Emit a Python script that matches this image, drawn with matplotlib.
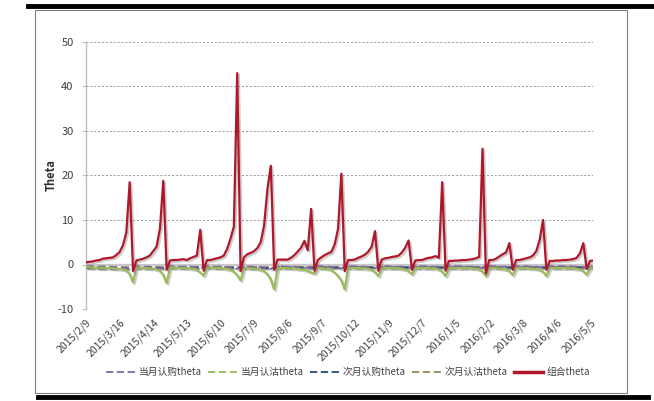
import matplotlib
matplotlib.use("Agg")
import matplotlib.pyplot as plt
import matplotlib.patheffects as pe
from matplotlib.lines import Line2D
from matplotlib.patches import Rectangle

plt.rcParams['font.family'] = ['Noto Sans CJK SC', 'DejaVu Sans']

# tick labels (every 10th sample)
tick_labels = ['2015/2/9', '2015/3/16', '2015/4/14', '2015/5/13', '2015/6/10',
               '2015/7/9', '2015/8/6', '2015/9/7', '2015/10/12', '2015/11/9',
               '2015/12/7', '2016/1/5', '2016/2/2', '2016/3/8', '2016/4/6',
               '2016/5/5']

combo_theta = [
    0.5, 0.6, 0.7, 0.9, 1.0, 1.3, 1.4, 1.5, 1.6, 2.1,
    2.8, 4.3, 7.2, 18.5, -1.5, 0.9, 1.1, 1.3, 1.6, 2.0,
    3.0, 4.0, 8.0, 18.8, -1.2, 0.9, 1.0, 1.0, 1.1, 1.2,
    1.0, 1.4, 1.7, 2.0, 7.8, -1.4, 1.0, 1.0, 1.2, 1.4,
    1.6, 2.0, 3.5, 5.8, 8.5, 43.0, -1.5, 1.6, 2.3, 2.6,
    3.0, 3.7, 5.0, 8.8, 17.0, 22.2, -1.2, 1.1, 1.1, 1.1,
    1.1, 1.5, 2.1, 2.9, 3.8, 5.3, 3.2, 12.5, -1.4, 1.0,
    1.6, 2.1, 2.5, 2.8, 4.5, 8.0, 20.4, -1.5, 1.0, 1.0,
    1.1, 1.5, 1.8, 2.2, 2.9, 4.0, 7.5, -1.4, 1.1, 1.4,
    1.5, 1.7, 1.8, 2.0, 2.7, 3.8, 5.4, -1.2, 0.9, 1.0,
    1.0, 1.3, 1.5, 1.6, 1.9, 1.5, 18.5, -1.4, 0.8, 0.8,
    0.9, 0.9, 1.0, 1.0, 1.1, 1.2, 1.4, 1.7, 26.0, -2.0,
    1.0, 1.0, 1.3, 1.8, 2.3, 2.7, 4.8, -1.2, 1.0, 1.0,
    1.2, 1.4, 1.6, 2.0, 3.0, 5.5, 10.0, -1.2, 0.8, 0.8,
    0.9, 0.9, 1.0, 1.0, 1.1, 1.2, 1.5, 2.5, 4.8, -1.0,
    0.8, 0.9]

put_near = [
    -0.6, -0.6, -0.7, -0.7, -0.7, -0.8, -0.8, -0.8, -0.9, -0.9,
    -1.0, -1.1, -1.3, -2.2, -4.0, -0.7, -0.7, -0.8, -0.8, -0.9,
    -0.9, -1.1, -1.4, -2.4, -4.2, -0.7, -0.7, -0.7, -0.8, -0.8,
    -0.8, -0.9, -1.0, -1.2, -1.8, -2.5, -0.7, -0.7, -0.8, -0.8,
    -0.8, -0.9, -1.0, -1.2, -1.6, -2.4, -3.6, -0.8, -0.8, -0.9,
    -0.9, -1.0, -1.2, -1.5, -2.2, -3.4, -5.6, -0.8, -0.8, -0.8,
    -0.8, -0.9, -0.9, -1.0, -1.1, -1.2, -1.4, -1.8, -2.0, -0.8,
    -0.8, -0.9, -1.0, -1.3, -1.8, -2.6, -3.6, -5.6, -0.8, -0.8,
    -0.8, -0.8, -0.9, -0.9, -1.0, -1.2, -1.7, -2.6, -0.8, -0.8,
    -0.8, -0.8, -0.8, -0.9, -1.0, -1.1, -1.5, -2.2, -0.8, -0.8,
    -0.8, -0.8, -0.8, -0.9, -0.9, -1.1, -1.6, -2.6, -0.8, -0.8,
    -0.8, -0.8, -0.8, -0.8, -0.8, -0.9, -0.9, -1.1, -1.6, -2.6,
    -0.8, -0.8, -0.8, -0.9, -1.0, -1.1, -1.5, -2.4, -0.8, -0.8,
    -0.8, -0.8, -0.9, -0.9, -1.0, -1.2, -1.6, -2.6, -0.8, -0.8,
    -0.8, -0.8, -0.8, -0.8, -0.8, -0.9, -1.0, -1.1, -1.5, -2.3,
    -0.8, -0.8]

call_near = [
    -0.4, -0.4, -0.4, -0.5, -0.5, -0.5, -0.5, -0.6, -0.6, -0.6,
    -0.7, -0.7, -0.8, -1.0, -0.6, -0.4, -0.4, -0.5, -0.5, -0.5,
    -0.6, -0.6, -0.7, -0.9, -0.6, -0.4, -0.4, -0.4, -0.5, -0.5,
    -0.5, -0.5, -0.6, -0.6, -0.8, -0.5, -0.4, -0.4, -0.5, -0.5,
    -0.5, -0.6, -0.6, -0.7, -0.8, -1.0, -0.6, -0.4, -0.5, -0.5,
    -0.5, -0.6, -0.6, -0.7, -0.8, -1.0, -0.6, -0.4, -0.4, -0.5,
    -0.5, -0.5, -0.5, -0.6, -0.6, -0.7, -0.7, -0.8, -0.5, -0.4,
    -0.4, -0.5, -0.5, -0.6, -0.6, -0.7, -0.9, -0.6, -0.4, -0.4,
    -0.4, -0.5, -0.5, -0.5, -0.6, -0.6, -0.8, -0.5, -0.4, -0.4,
    -0.4, -0.5, -0.5, -0.5, -0.5, -0.6, -0.7, -0.5, -0.4, -0.4,
    -0.4, -0.4, -0.5, -0.5, -0.5, -0.5, -0.7, -0.5, -0.4, -0.4,
    -0.4, -0.4, -0.4, -0.5, -0.5, -0.5, -0.5, -0.6, -0.8, -0.5,
    -0.4, -0.4, -0.4, -0.5, -0.5, -0.5, -0.7, -0.5, -0.4, -0.4,
    -0.4, -0.4, -0.5, -0.5, -0.5, -0.6, -0.7, -0.5, -0.4, -0.4,
    -0.4, -0.4, -0.4, -0.4, -0.4, -0.5, -0.5, -0.5, -0.6, -0.5,
    -0.4, -0.4]

call_next = [
    -0.8, -0.8, -0.8, -0.9, -0.9, -0.9, -0.9, -0.9, -0.9, -0.9,
    -0.9, -0.9, -0.9, -0.9, -0.8, -0.8, -0.8, -0.8, -0.8, -0.8,
    -0.8, -0.8, -0.8, -0.8, -0.7, -0.7, -0.7, -0.7, -0.7, -0.7,
    -0.7, -0.7, -0.7, -0.7, -0.7, -0.7, -0.7, -0.7, -0.7, -0.7,
    -0.7, -0.7, -0.7, -0.7, -0.7, -0.7, -0.7, -0.8, -0.8, -0.8,
    -0.8, -0.8, -0.8, -0.8, -0.8, -0.8, -0.8, -0.7, -0.7, -0.7,
    -0.7, -0.7, -0.7, -0.7, -0.7, -0.7, -0.7, -0.7, -0.7, -0.7,
    -0.7, -0.7, -0.7, -0.7, -0.7, -0.7, -0.7, -0.7, -0.7, -0.7,
    -0.7, -0.7, -0.7, -0.7, -0.7, -0.7, -0.7, -0.7, -0.7, -0.7,
    -0.7, -0.7, -0.7, -0.7, -0.7, -0.7, -0.7, -0.7, -0.7, -0.7,
    -0.7, -0.7, -0.7, -0.7, -0.7, -0.7, -0.7, -0.7, -0.7, -0.7,
    -0.7, -0.7, -0.7, -0.7, -0.7, -0.7, -0.7, -0.7, -0.7, -0.7,
    -0.7, -0.7, -0.7, -0.7, -0.7, -0.7, -0.7, -0.7, -0.7, -0.7,
    -0.7, -0.7, -0.7, -0.7, -0.7, -0.7, -0.7, -0.7, -0.7, -0.7,
    -0.7, -0.7, -0.7, -0.7, -0.7, -0.7, -0.7, -0.7, -0.7, -0.7,
    -0.7, -0.7]

put_next = [
    -0.5, -0.5, -0.5, -0.5, -0.5, -0.5, -0.5, -0.5, -0.6, -0.6,
    -0.6, -0.6, -0.6, -0.6, -0.6, -0.6, -0.6, -0.6, -0.6, -0.6,
    -0.6, -0.6, -0.6, -0.6, -0.6, -0.6, -0.6, -0.6, -0.6, -0.6,
    -0.6, -0.6, -0.6, -0.6, -0.6, -0.6, -0.6, -0.6, -0.6, -0.6,
    -0.6, -0.6, -0.6, -0.6, -0.6, -0.6, -0.6, -0.6, -0.6, -0.6,
    -0.6, -0.6, -0.6, -0.6, -0.6, -0.6, -0.6, -0.6, -0.6, -0.6,
    -0.6, -0.6, -0.6, -0.6, -0.6, -0.6, -0.6, -0.6, -0.6, -0.6,
    -0.6, -0.6, -0.6, -0.6, -0.6, -0.6, -0.6, -0.6, -0.6, -0.6,
    -0.6, -0.6, -0.6, -0.6, -0.6, -0.6, -0.6, -0.6, -0.6, -0.6,
    -0.6, -0.6, -0.6, -0.6, -0.6, -0.6, -0.6, -0.6, -0.6, -0.6,
    -0.6, -0.6, -0.6, -0.6, -0.6, -0.6, -0.6, -0.6, -0.6, -0.6,
    -0.6, -0.6, -0.6, -0.6, -0.6, -0.6, -0.6, -0.6, -0.6, -0.6,
    -0.6, -0.6, -0.6, -0.6, -0.6, -0.6, -0.6, -0.6, -0.6, -0.6,
    -0.6, -0.6, -0.6, -0.6, -0.6, -0.6, -0.6, -0.6, -0.6, -0.6,
    -0.6, -0.6, -0.6, -0.6, -0.6, -0.6, -0.6, -0.6, -0.6, -0.6,
    -0.6, -0.6]

series_names = ['当月认购theta', '当月认沽theta', '次月认购theta', '次月认沽theta', '组合theta']
y_ticks = [-10, 0, 10, 20, 30, 40, 50]

W, H = 654, 401
fig = plt.figure(figsize=(W / 100, H / 100), dpi=100)

# outer frame decorations
fig.add_artist(Rectangle((35 / W, 1 - 393 / H), (627 - 35) / W, (393 - 10) / H,
                         transform=fig.transFigure, fill=False,
                         edgecolor='#808080', linewidth=0.8))
fig.add_artist(Line2D([28 / W, 1.0], [1 - 5.5 / H, 1 - 5.5 / H],
                      transform=fig.transFigure, color='black', linewidth=3.5))
fig.add_artist(Line2D([38 / W, 648 / W], [1 - 397 / H, 1 - 397 / H],
                      transform=fig.transFigure, color='black', linewidth=3.5))

ax = fig.add_axes([86 / W, 1 - 309 / H, (593.4 - 86) / W, (309 - 42) / H])
n = len(combo_theta)
x = list(range(n))

shadow = [pe.SimpleLineShadow(offset=(1.2, -1.2), shadow_color='#808080', alpha=0.4), pe.Normal()]

colors = ['#8064A2', '#9BBB59', '#1F497D', '#948A54', '#B0172A']

# gridlines
for v in y_ticks:
    if v == 0:
        continue
    ax.axhline(v, color='#9A9A9A', linewidth=0.7, linestyle=(0, (2, 2)), zorder=0)
ax.axhline(0, color='#C8C8C8', linewidth=1.6, zorder=1)

ax.plot(x, put_next, color=colors[3], linewidth=1.4, linestyle=(0, (4, 2)), path_effects=shadow, zorder=2)
ax.plot(x, call_next, color=colors[2], linewidth=1.4, linestyle=(0, (4, 2)), path_effects=shadow, zorder=2)
ax.plot(x, call_near, color=colors[0], linewidth=1.4, linestyle=(0, (4, 2)), path_effects=shadow, zorder=2)
ax.plot(x, put_near, color=colors[1], linewidth=1.6, path_effects=shadow, zorder=3)
ax.plot(x, combo_theta, color=colors[4], linewidth=1.6, path_effects=shadow, zorder=4)

ax.set_xlim(0, n - 1)
ax.set_ylim(-10, 50)
ax.set_yticks(y_ticks)
ax.set_yticklabels([str(v) for v in y_ticks], fontsize=8, color='#404040')
ax.set_xticks(list(range(0, n, 10)))
ax.set_xticklabels(tick_labels, rotation=45, ha='right', rotation_mode='anchor',
                   fontsize=7.5, color='#404040')
ax.tick_params(axis='x', length=0, pad=6)
ax.tick_params(axis='y', length=3, color='#BFBFBF', pad=6)
for s in ['top', 'right', 'bottom']:
    ax.spines[s].set_visible(False)
ax.spines['left'].set_color('#BFBFBF')
ax.spines['left'].set_linewidth(1.0)
ax.set_ylabel('Theta', fontsize=8, fontweight='bold', color='#303030', labelpad=0)

handles = [
    Line2D([], [], color=colors[0], linewidth=1.3, linestyle=(0, (4, 2))),
    Line2D([], [], color=colors[1], linewidth=1.3, linestyle=(0, (4, 2))),
    Line2D([], [], color=colors[2], linewidth=1.3, linestyle=(0, (4, 2))),
    Line2D([], [], color=colors[3], linewidth=1.3, linestyle=(0, (4, 2))),
    Line2D([], [], color=colors[4], linewidth=2.5),
]
leg = fig.legend(handles, series_names, loc='center', bbox_to_anchor=(348 / W, 1 - 372 / H),
                 ncol=5, frameon=False, fontsize=7, handlelength=3.0, handletextpad=0.4,
                 columnspacing=0.6)
for t in leg.get_texts():
    t.set_color('#404040')

fig.savefig('out.png', dpi=100)
